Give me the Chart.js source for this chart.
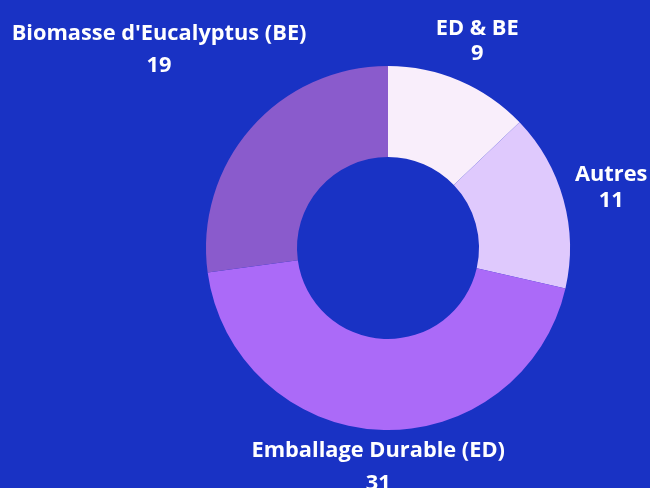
<!DOCTYPE html>
<html><head><meta charset="utf-8">
<script src="https://cdn.jsdelivr.net/npm/chart.js@4/dist/chart.umd.min.js"></script>
<style>html,body{margin:0;padding:0;background:#1932c4;overflow:hidden}</style>
</head><body>
<canvas id="c" width="650" height="488"></canvas>
<script>
const categories = ["ED & BE", "Autres", "Emballage Durable (ED)", "Biomasse d'Eucalyptus (BE)"];
const values = [9, 11, 31, 19];
const sliceColors = ["#f9eefb", "#dfc9fd", "#ab6af8", "#8a5bcc"];

const outerLabels = {
  id: 'outerLabels',
  afterDatasetsDraw(chart, args, opts) {
    const ctx = chart.ctx;
    const meta = chart.getDatasetMeta(0);
    ctx.save();
    ctx.fillStyle = opts.color;
    ctx.font = opts.font;
    ctx.textAlign = 'center';
    ctx.textBaseline = 'alphabetic';
    meta.data.forEach((arc, i) => {
      const p = arc.getProps(['x', 'y', 'startAngle', 'endAngle', 'outerRadius'], true);
      const mid = (p.startAngle + p.endAngle) / 2;
      const r = p.outerRadius + opts.distances[i];
      const cx = p.x + Math.cos(mid) * r;
      const cy = p.y + Math.sin(mid) * r;
      const gap = opts.lineGaps[i];
      ctx.fillText(chart.data.labels[i], cx, cy - gap / 2 + opts.capHalf);
      ctx.fillText(String(chart.data.datasets[0].data[i]), cx, cy + gap / 2 + opts.capHalf);
    });
    ctx.restore();
  }
};

new Chart(document.getElementById('c'), {
  type: 'doughnut',
  data: {
    labels: categories,
    datasets: [{
      data: values,
      backgroundColor: sliceColors,
      borderWidth: 0,
      hoverOffset: 0,
      offset: 0
    }]
  },
  options: {
    responsive: false,
    animation: false,
    cutout: '50%',
    layout: { padding: { left: 206, right: 80, top: 66, bottom: 58 } },
    events: [],
    plugins: {
      legend: { display: false },
      tooltip: { enabled: false },
      outerLabels: {
        color: '#ffffff',
        font: 'bold 21.8px "Open Sans"',
        capHalf: 7.8,
        distances: [45, 49.5, 36, 122],
        lineGaps: [25, 26, 33, 32.5]
      }
    }
  },
  plugins: [outerLabels]
});
</script>
</body></html>
